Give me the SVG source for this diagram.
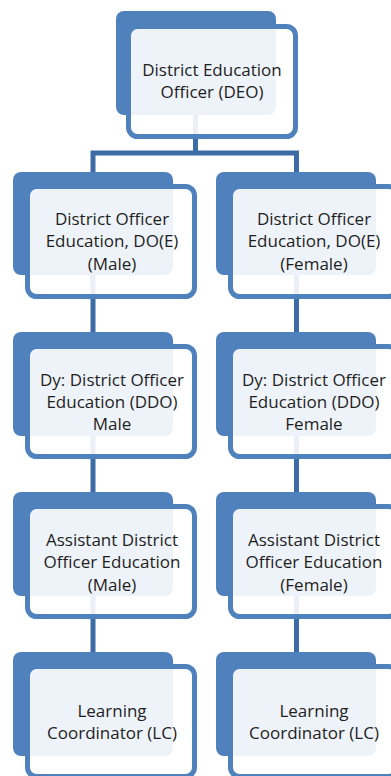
<svg xmlns="http://www.w3.org/2000/svg" width="391" height="776" viewBox="0 0 391 776">
<style>
.back{fill:#4F81BD;}
.front{fill:#FFFFFF;fill-opacity:0.9;stroke:#4F81BD;stroke-width:5;}
.conn{stroke:#3D6BA6;stroke-width:5;fill:none;}
text{font-family:"Open Sans","Liberation Sans",sans-serif;font-size:17px;fill:#1E1E1E;text-anchor:middle;}
</style>
<rect width="391" height="776" fill="#FFFFFF"/>
<g id="connectors">
<path class="conn" d="M195.5,115 V153 M93,153 H296.5 M93,150.5 V172 M296.5,150.5 V172"/>
<path class="conn" d="M93,275 V332 M296.5,275 V332"/>
<path class="conn" d="M93,436 V492 M296.5,436 V492"/>
<path class="conn" d="M93,596 V652 M296.5,596 V652"/>
</g>
<g id="deo">
<rect class="back" x="116" y="11" width="160" height="104" rx="8"/>
<rect class="front" x="128.5" y="26.5" width="167" height="110" rx="9"/>
<text x="212" y="76">District Education</text>
<text x="212" y="98">Officer (DEO)</text>
</g>
<g id="doe-male">
<rect class="back" x="13" y="172" width="160" height="103" rx="8"/>
<rect class="front" x="27.5" y="186.5" width="167" height="110" rx="9"/>
<text x="112" y="225">District Officer</text>
<text x="112" y="247">Education, DO(E)</text>
<text x="112" y="270">(Male)</text>
</g>
<g id="doe-female">
<rect class="back" x="216" y="172" width="160" height="103" rx="8"/>
<rect class="front" x="230.5" y="186.5" width="167" height="110" rx="9"/>
<text x="314" y="225">District Officer</text>
<text x="314" y="247">Education, DO(E)</text>
<text x="314" y="270">(Female)</text>
</g>
<g id="ddo-male">
<rect class="back" x="13" y="332" width="160" height="104" rx="8"/>
<rect class="front" x="27.5" y="346.5" width="167" height="110" rx="9"/>
<text x="112" y="386">Dy: District Officer</text>
<text x="112" y="408">Education (DDO)</text>
<text x="112" y="430">Male</text>
</g>
<g id="ddo-female">
<rect class="back" x="216" y="332" width="160" height="104" rx="8"/>
<rect class="front" x="230.5" y="346.5" width="167" height="110" rx="9"/>
<text x="314" y="386">Dy: District Officer</text>
<text x="314" y="408">Education (DDO)</text>
<text x="314" y="430">Female</text>
</g>
<g id="ado-male">
<rect class="back" x="13" y="492" width="160" height="104" rx="8"/>
<rect class="front" x="27.5" y="506.5" width="167" height="110" rx="9"/>
<text x="112" y="546">Assistant District</text>
<text x="112" y="568">Officer Education</text>
<text x="112" y="591">(Male)</text>
</g>
<g id="ado-female">
<rect class="back" x="216" y="492" width="160" height="104" rx="8"/>
<rect class="front" x="230.5" y="506.5" width="167" height="110" rx="9"/>
<text x="314" y="546">Assistant District</text>
<text x="314" y="568">Officer Education</text>
<text x="314" y="591">(Female)</text>
</g>
<g id="lc-male">
<rect class="back" x="13" y="652" width="160" height="104" rx="8"/>
<rect class="front" x="27.5" y="666.5" width="167" height="110" rx="9"/>
<text x="112" y="717">Learning</text>
<text x="112" y="739">Coordinator (LC)</text>
</g>
<g id="lc-female">
<rect class="back" x="216" y="652" width="160" height="104" rx="8"/>
<rect class="front" x="230.5" y="666.5" width="167" height="110" rx="9"/>
<text x="314" y="717">Learning</text>
<text x="314" y="739">Coordinator (LC)</text>
</g>
</svg>
